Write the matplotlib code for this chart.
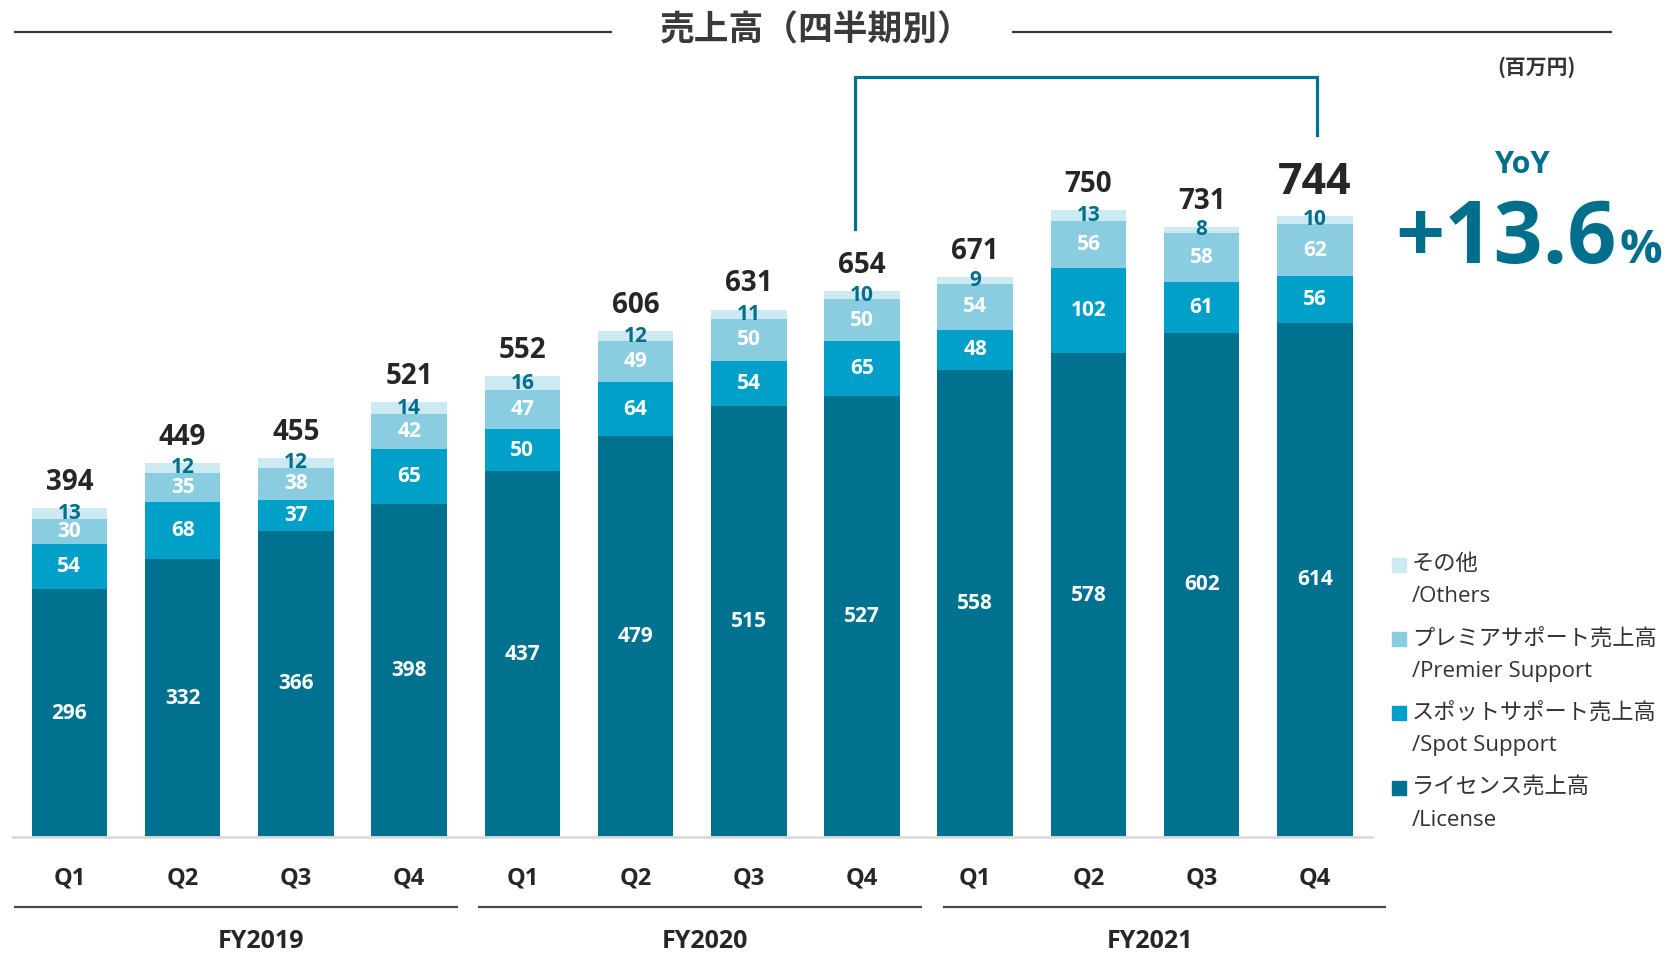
import matplotlib.pyplot as plt
from matplotlib.patches import Rectangle
from matplotlib.transforms import blended_transform_factory

LATIN = ['Open Sans', 'Noto Sans CJK JP', 'DejaVu Sans']
JP = ['Noto Sans CJK JP', 'DejaVu Sans']
plt.rcParams['font.family'] = LATIN

quarters = ['Q1', 'Q2', 'Q3', 'Q4'] * 3
years = ['FY2019', 'FY2020', 'FY2021']
license_rev = [296, 332, 366, 398, 437, 479, 515, 527, 558, 578, 602, 614]
spot_rev = [54, 68, 37, 65, 50, 64, 54, 65, 48, 102, 61, 56]
premier_rev = [30, 35, 38, 42, 47, 49, 50, 50, 54, 56, 58, 62]
others_rev = [13, 12, 12, 14, 16, 12, 11, 10, 9, 13, 8, 10]
totals = [394, 449, 455, 521, 552, 606, 631, 654, 671, 750, 731, 744]
yoy = '+13.6'

series_names = [('その他', '/Others'),
                ('プレミアサポート売上高', '/Premier Support'),
                ('スポットサポート売上高', '/Spot Support'),
                ('ライセンス売上高', '/License')]

C_LIC = '#00728f'
C_SPOT = '#00a0c8'
C_PREM = '#8bcde0'
C_OTH = '#cde9f2'
TEAL = '#006f8c'
DARK = '#262626'

W, H = 1667, 956
fig = plt.figure(figsize=(W / 100, H / 100), dpi=100)


def fx(px):
    return px / W


def fy(py):
    return 1 - py / H


ax = fig.add_axes([fx(12.8), fy(837), fx(1371.5) - fx(12.8), fy(60) - fy(837)])
x = list(range(len(quarters)))
bw = 0.667

layers = [(license_rev, C_LIC, 'white'), (spot_rev, C_SPOT, 'white'),
          (premier_rev, C_PREM, 'white'), (others_rev, C_OTH, TEAL)]
bottom = [0] * len(x)
for vals, col, tcol in layers:
    ax.bar(x, vals, bw, bottom=bottom, color=col, edgecolor='none', zorder=2)
    for i, v in enumerate(vals):
        ax.text(i, bottom[i] + v / 2, str(v), ha='center', va='center',
                fontsize=15, fontweight='bold', color=tcol, zorder=3)
    bottom = [b + v for b, v in zip(bottom, vals)]

for i, (b, t) in enumerate(zip(bottom, totals)):
    last = i == len(x) - 1
    ax.annotate(str(t), (i, b), xytext=(0, 16 if last else 13), textcoords='offset points',
                ha='center', va='baseline', fontsize=31 if last else 20,
                fontweight='bold', color=DARK)

ax.set_xlim(-0.5, 11.5)
ax.set_ylim(0, 928)
for s in ['top', 'right', 'left']:
    ax.spines[s].set_visible(False)
ax.spines['bottom'].set_color('#dcdcdc')
ax.spines['bottom'].set_linewidth(2)
ax.set_yticks([])
ax.set_xticks(x, quarters, fontsize=17, fontweight='bold', color=DARK)
ax.tick_params(axis='x', length=0, pad=21)

# fiscal year groups
tr = blended_transform_factory(ax.transData, ax.transAxes)
for g, yr in enumerate(years):
    x0 = 4 * g - 0.48 + 0.1 * g
    ax.plot([x0, x0 + 3.9], [-0.0901, -0.0901], transform=tr, color='#4a4a4a',
            lw=1.6, clip_on=False)
    ax.text(4 * g + 1.69 - 0.075 * g, -0.134, yr, transform=tr, ha='center', va='center',
            fontsize=18, fontweight='bold', color=DARK)

# YoY bracket between FY2020 Q4 and FY2021 Q4
i0, i1 = 7, 11
ax.plot([i0 - 0.06, i0 - 0.06, i1 + 0.02, i1 + 0.02],
        [totals[i0] + 72, 908, 908, totals[i1] + 94],
        color=C_LIC, lw=2.3, clip_on=False, solid_joinstyle='miter')

# title
fig.text(fx(816.5), fy(30), '売上高（四半期別）', ha='center', va='center',
         fontsize=25, family=JP, color='#3a3a3a', fontweight='bold')
fig.add_artist(plt.Line2D([fx(15), fx(611)], [fy(32), fy(32)], color='#3a3a3a', lw=1.6))
fig.add_artist(plt.Line2D([fx(1013), fx(1611)], [fy(32), fy(32)], color='#3a3a3a', lw=1.6))
fig.text(fx(1536), fy(67), '(百万円)', ha='center', va='center', fontsize=15,
         family=JP, fontweight='bold', color='#333333')

# YoY
fig.text(fx(1523), fy(165), 'YoY', ha='center', va='center', fontsize=22,
         fontweight='bold', color=TEAL)
fig.text(fx(1617), fy(263), yoy, ha='right', va='baseline', fontsize=62,
         fontweight='bold', color=TEAL)
fig.text(fx(1619), fy(263), '%', ha='left', va='baseline', fontsize=34,
         fontweight='bold', color=TEAL)

# legend
legend_cols = [C_OTH, C_PREM, C_SPOT, C_LIC]
row_y = [563.5, 638, 712, 787]
for (jp, en), col, ry in zip(series_names, legend_cols, row_y):
    fig.add_artist(Rectangle((fx(1392), fy(ry + 8)), fx(14), 14 / H,
                             color=col, transform=fig.transFigure))
    fig.text(fx(1412), fy(ry), jp, ha='left', va='center', fontsize=16,
             family=JP, color='#333333')
    fig.text(fx(1412), fy(ry + 33), en, ha='left', va='center', fontsize=16,
             color='#333333')

fig.savefig('out.png', dpi=100)
